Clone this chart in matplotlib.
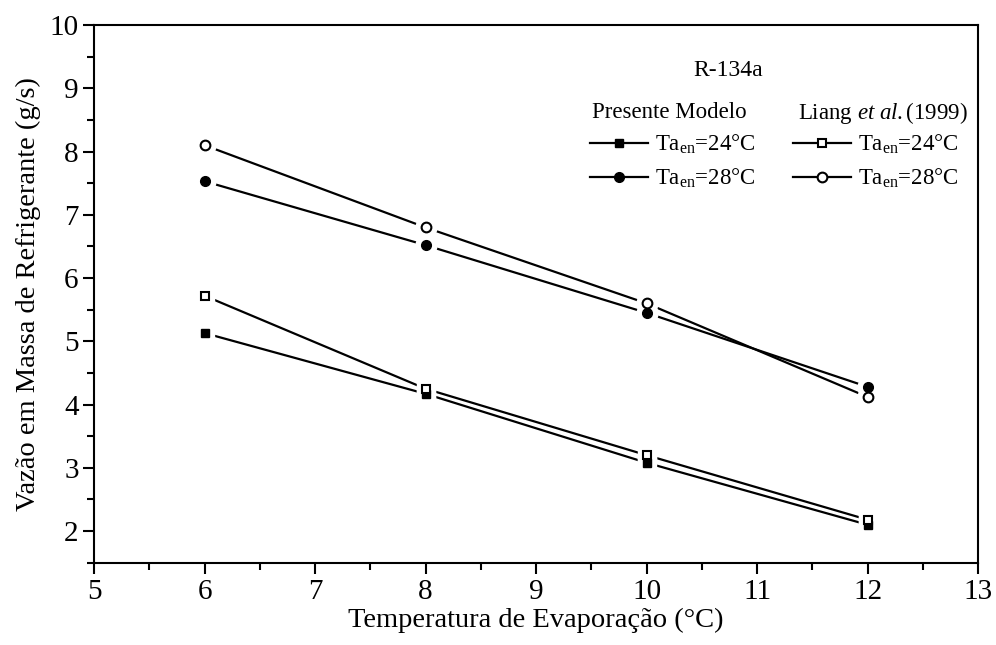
import matplotlib
matplotlib.use("Agg")
import matplotlib.pyplot as plt
from matplotlib.lines import Line2D
from matplotlib.ticker import MultipleLocator

plt.rcParams["font.family"] = ["Liberation Serif", "DejaVu Serif"]
plt.rcParams["mathtext.fontset"] = "custom"
plt.rcParams["mathtext.rm"] = "Liberation Serif"
plt.rcParams["mathtext.it"] = "Liberation Serif:italic"

# Evaporation temperature (°C)
temp_evap = [6, 8, 10, 12]

# Refrigerant mass flow (g/s)
modelo_24 = [5.13, 4.17, 3.08, 2.10]
modelo_28 = [7.53, 6.52, 5.45, 4.28]
liang_24 = [5.72, 4.25, 3.20, 2.18]
liang_28 = [8.10, 6.80, 5.60, 4.12]

lbl_24 = r"Ta$_{\mathrm{en}}$=24°C"
lbl_28 = r"Ta$_{\mathrm{en}}$=28°C"

fig = plt.figure(figsize=(9.96, 6.45), dpi=100)
ax = fig.add_axes([0.0944, 0.1276, 0.8876, 0.8336])

lw = 1.6
series = [
    (modelo_24, dict(marker="s", mfc="black", mec="black", ms=5.5)),
    (modelo_28, dict(marker="o", mfc="black", mec="black", ms=7)),
    (liang_24, dict(marker="s", mfc="white", mec="black", ms=5.5, mew=1.5)),
    (liang_28, dict(marker="o", mfc="white", mec="black", ms=7, mew=1.5)),
]
handles = []
for vals, st in series:
    ax.plot(temp_evap, vals, color="black", lw=lw, zorder=2)
    # white halo leaves a small gap between line and symbol
    ax.plot(temp_evap, vals, ls="none", marker=st["marker"], ms=st["ms"] + 8,
            mfc="white", mec="white", zorder=3)
    ax.plot(temp_evap, vals, ls="none", zorder=4, **st)
    handles.append(Line2D([], [], color="black", lw=lw, **st))

ax.set_xlim(5, 13)
ax.set_ylim(1.5, 10)
ax.xaxis.set_major_locator(MultipleLocator(1))
ax.xaxis.set_minor_locator(MultipleLocator(0.5))
ax.yaxis.set_major_locator(MultipleLocator(1))
ax.yaxis.set_minor_locator(MultipleLocator(0.5))
ax.set_yticks([2, 3, 4, 5, 6, 7, 8, 9, 10])
ax.tick_params(which="major", direction="out", length=8, width=1.5, labelsize=21, pad=3)
ax.tick_params(axis="x", which="major", pad=4)
ax.tick_params(which="minor", direction="out", length=5, width=1.5)
ax.tick_params(top=False, right=False)
for sp in ax.spines.values():
    sp.set_linewidth(1.5)

ax.set_xlabel("Temperatura de Evaporação (°C)", fontsize=20.5, labelpad=2)
ax.set_ylabel("Vazão em Massa de Refrigerante (g/s)", fontsize=20.5, labelpad=6)

ax.text(0.717, 0.916, "R-134a", transform=ax.transAxes, fontsize=17,
        ha="center", va="center")
ax.text(0.563, 0.838, "Presente Modelo", transform=ax.transAxes, fontsize=16.5,
        ha="left", va="center")
ax.text(0.796, 0.836, r"Liang $\mathit{et\ al.}$(1999)", transform=ax.transAxes,
        fontsize=16.5, ha="left", va="center")

leg = ax.legend(handles, [lbl_24, lbl_28, lbl_24, lbl_28], ncol=2, frameon=False,
                loc="upper left", bbox_to_anchor=(0.561, 0.8), fontsize=16.5,
                handlelength=2.55, handletextpad=0.3, columnspacing=1.6,
                labelspacing=0.48, borderpad=0, borderaxespad=0)

fig.savefig("out.png", dpi=100)
